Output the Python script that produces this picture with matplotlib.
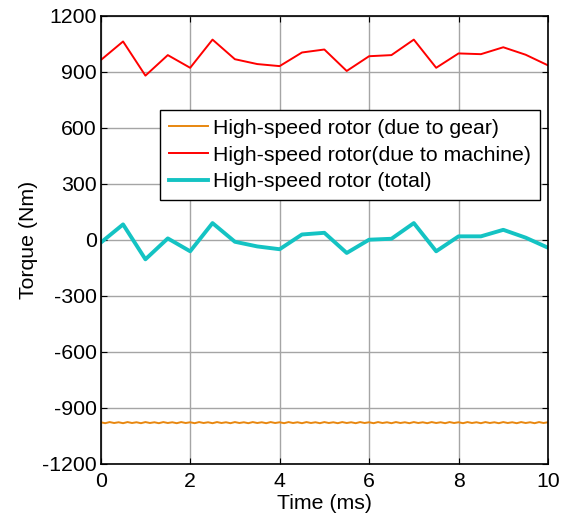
import numpy as np
import matplotlib
matplotlib.use('Agg')
import matplotlib.pyplot as plt


# time axis of the sampled torques (ms)
time_ms = [0.0, 0.5, 1.0, 1.5, 2.0, 2.5, 3.0, 3.5, 4.0, 4.5, 5.0,
           5.5, 6.0, 6.5, 7.0, 7.5, 8.0, 8.5, 9.0, 9.5, 10.0]

torque_machine = [962, 1062, 879, 989, 921, 1072, 967, 941, 930, 1003, 1019,
                  904, 983, 989, 1072, 921, 998, 994, 1031, 991, 934]

torque_total = [-16, 82, -105, 7, -62, 89, -11, -36, -51, 28, 37,
                -71, 0, 5, 89, -62, 18, 18, 53, 11, -43]

# gear torque, fine time step (0.1 ms) because of the small ripple
time_gear = [i / 10 for i in range(101)]
torque_gear = [-978, -983, -977, -982, -978, -983, -977, -982, -978, -983,
               -977, -982, -978, -983, -977, -982, -978, -983, -977, -982,
               -978, -983, -977, -982, -978, -983, -977, -982, -978, -983,
               -977, -982, -978, -983, -977, -982, -978, -983, -977, -982,
               -978, -983, -977, -982, -978, -983, -977, -982, -978, -983,
               -977, -982, -978, -983, -977, -982, -978, -983, -977, -982,
               -978, -983, -977, -982, -978, -983, -977, -982, -978, -983,
               -977, -982, -978, -983, -977, -982, -978, -983, -977, -982,
               -978, -983, -977, -982, -978, -983, -977, -982, -978, -983,
               -977, -982, -978, -983, -977, -982, -978, -983, -977, -982,
               -978]

labels = ['High-speed rotor (due to gear)',
          'High-speed rotor(due to machine)',
          'High-speed rotor (total)']

x_ticks = [0, 2, 4, 6, 8, 10]
y_ticks = [-1200, -900, -600, -300, 0, 300, 600, 900, 1200]

plt.rcParams['font.family'] = ['Liberation Sans', 'DejaVu Sans']
plt.rcParams['font.size'] = 15.3
plt.rcParams['axes.unicode_minus'] = False


def main():
    fig = plt.figure(figsize=(5.67, 5.17), dpi=100)
    ax = fig.add_axes([0.1776, 0.1031, 0.7889, 0.8665])

    ax.plot(time_gear, torque_gear, color='#E8870F', lw=1.4, label=labels[0])
    ax.plot(time_ms, torque_machine, color='#FF0000', lw=1.4, label=labels[1])
    ax.plot(time_ms, torque_total, color='#14C3C3', lw=2.8, label=labels[2])

    ax.set_xlim(0, 10)
    ax.set_ylim(-1200, 1200)
    ax.set_xticks(x_ticks)
    ax.set_yticks(y_ticks)
    ax.grid(True, color='#A5A5A5', lw=1.0, ls='-')
    ax.set_axisbelow(True)
    ax.tick_params(direction='in', length=4, width=0.8, top=True, right=True,
                   pad=3)
    ax.tick_params(axis='x', pad=6)
    for s in ax.spines.values():
        s.set_linewidth(1.2)

    ax.set_xlabel('Time (ms)', labelpad=2)
    ax.set_ylabel('Torque (Nm)', labelpad=3)

    leg = ax.legend(loc='upper right', bbox_to_anchor=(0.982, 0.789),
                    fancybox=False, framealpha=1, edgecolor='black',
                    handlelength=1.85, handletextpad=0.25, labelspacing=0.37,
                    borderpad=0.4, borderaxespad=0)
    leg.get_frame().set_linewidth(1.0)

    fig.savefig('out.png', dpi=100)


main()
